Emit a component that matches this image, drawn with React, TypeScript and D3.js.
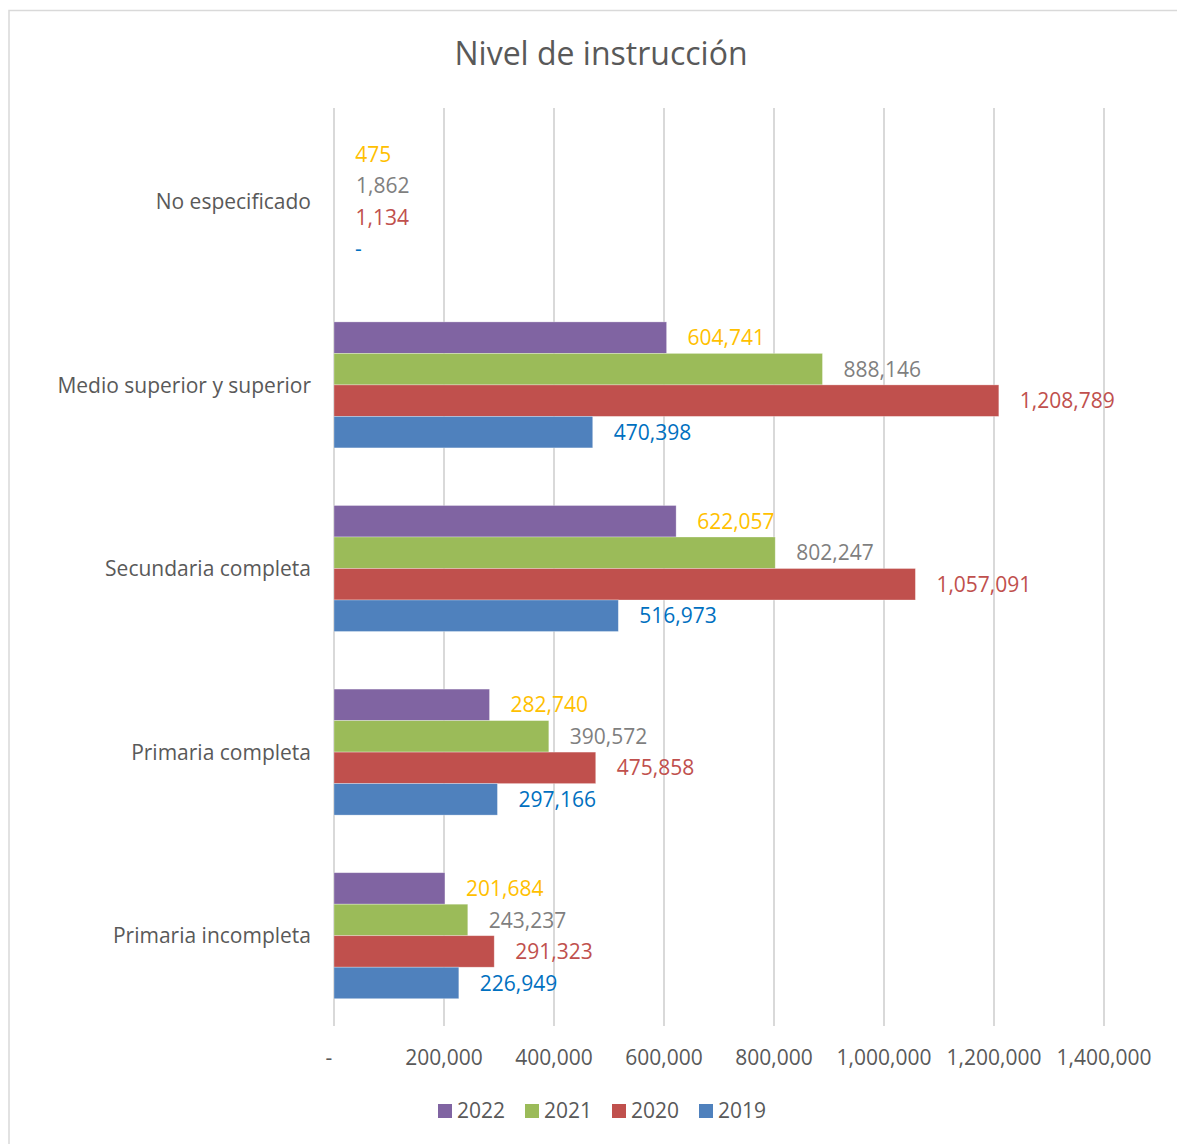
import React from "react";
import * as d3 from "d3";

const categories = [
  "No especificado",
  "Medio superior y superior",
  "Secundaria completa",
  "Primaria completa",
  "Primaria incompleta",
];
const seriesNames = ["2022", "2021", "2020", "2019"];
const v2022 = [475, 604741, 622057, 282740, 201684];
const v2021 = [1862, 888146, 802247, 390572, 243237];
const v2020 = [1134, 1208789, 1057091, 475858, 291323];
const v2019 = [0, 470398, 516973, 297166, 226949];
const barColors = ["#8064A2", "#9BBB59", "#C0504D", "#4F81BD"];
const labelColors = ["#FFC000", "#7F7F7F", "#C0504D", "#0070C0"];
const xTicks = [0, 200000, 400000, 600000, 800000, 1000000, 1200000, 1400000];

const FONT = "'Open Sans', sans-serif";
const FS = 21;

export default function App() {
  const W = 1177;
  const H = 1144;
  const values = [v2022, v2021, v2020, v2019];
  const x = d3.scaleLinear().domain([0, 1400000]).range([334, 1104]);
  const y = d3.scaleBand<string>().domain(categories).range([109.5, 1027.5]);
  const inner = d3.scaleBand<string>().domain(seriesNames).range([0, 126]);
  const fmt = (v: number) => (v === 0 ? "-" : d3.format(",")(v));
  const dy = 2;

  return (
    <svg width={W} height={H} style={{ display: "block", position: "absolute", left: 0, top: 0 }}>
      <rect x={0} y={0} width={W} height={H} fill="#fff" />
      <rect x={9} y={10.5} width={1200} height={1200} fill="#fff" stroke="#D9D9D9" strokeWidth={1.5} />
      <text x={601} y={56} textAnchor="middle" dominantBaseline="middle" fontFamily={FONT} fontSize={32} fill="#595959">
        Nivel de instrucción
      </text>
      {xTicks.map((t) => (
        <line key={t} x1={x(t)} x2={x(t)} y1={108} y2={1026} stroke="#D9D9D9" strokeWidth={2} />
      ))}
      {xTicks.map((t) => (
        <text key={"t" + t} x={t === 0 ? x(t) - 5 : x(t)} y={1059} textAnchor="middle" dominantBaseline="middle" fontFamily={FONT} fontSize={FS} fill="#595959">
          {t === 0 ? "-" : d3.format(",")(t)}
        </text>
      ))}
      {categories.map((c, ci) => {
        const y0 = (y(c) as number) + y.bandwidth() / 2 - 63;
        return (
          <g key={c}>
            <text x={311} y={y0 + 63 + dy} textAnchor="end" dominantBaseline="middle" fontFamily={FONT} fontSize={FS} fill="#595959">
              {c}
            </text>
            {seriesNames.map((s, si) => {
              const v = values[si][ci];
              const by = y0 + (inner(s) as number);
              const w = x(v) - x(0);
              return (
                <g key={s}>
                  {w >= 2 && (
                    <rect x={x(0)} y={by} width={w} height={inner.bandwidth()} fill={barColors[si]} stroke="#fff" strokeOpacity={0.4} strokeWidth={0.75} />
                  )}
                  <text x={x(v) + 21} y={by + inner.bandwidth() / 2 + dy} dominantBaseline="middle" fontFamily={FONT} fontSize={FS} fill={labelColors[si]}>
                    {fmt(v)}
                  </text>
                </g>
              );
            })}
          </g>
        );
      })}
      {seriesNames.map((s, si) => (
        <g key={"l" + s} transform={`translate(${438 + si * 87},1104)`}>
          <rect x={0} y={0} width={14} height={14} fill={barColors[si]} />
          <text x={19} y={8} dominantBaseline="middle" fontFamily={FONT} fontSize={FS} fill="#595959">
            {s}
          </text>
        </g>
      ))}
    </svg>
  );
}
